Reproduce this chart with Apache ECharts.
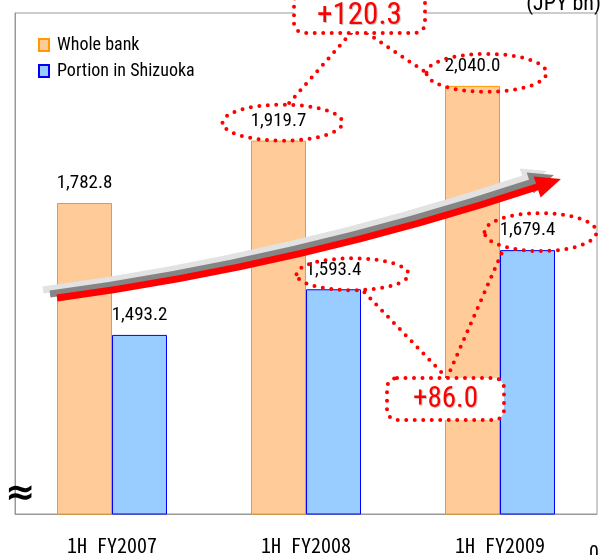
<!DOCTYPE html>
<html>
<head>
<meta charset="utf-8">
<script src="https://cdn.jsdelivr.net/npm/echarts@6/dist/echarts.min.js"></script>
<style>
  html, body { margin: 0; padding: 0; background: #fff; }
  #chart { width: 604px; height: 555px; }
</style>
</head>
<body>
<div id="chart"></div>
<script>
// Loans outstanding, JPY bn
const categories = ['1H FY2007', '1H FY2008', '1H FY2009'];
const wholeBank = [1782.8, 1919.7, 2040.0];
const shizuoka = [1493.2, 1593.4, 1679.4];
const seriesNames = ['Whole bank', 'Portion in Shizuoka'];
const unitLabel = '(JPY bn)';

const NARROW = "'Liberation Sans Narrow', 'Arial Narrow', 'Roboto Condensed', sans-serif";
const GOTHIC = "'Noto Sans Mono CJK JP', 'Liberation Mono', monospace";
const BAR_W = 55;
const RED = '#FF0000';

const fmt = v => v.toLocaleString('en-US', { minimumFractionDigits: 1, maximumFractionDigits: 1 });
const diff = (arr) => '+' + fmt(arr[2] - arr[1]);

const chart = echarts.init(document.getElementById('chart'), null, { renderer: 'canvas' });

const labelStyle = {
  show: true, position: 'top', distance: 10,
  formatter: p => fmt(p.value),
  fontFamily: NARROW, fontSize: 19, color: '#000'
};

chart.setOption({
  animation: false,
  grid: { left: 15, top: 13, right: 7, bottom: 39, show: true, borderColor: '#999', borderWidth: 1 },
  legend: {
    orient: 'vertical', left: 33, top: 31,
    itemWidth: 10, itemHeight: 12, itemGap: 8, icon: 'rect',
    selectedMode: false,
    textStyle: { fontFamily: NARROW, fontSize: 18, color: '#000', padding: [0, 0, 0, 3] },
    data: seriesNames
  },
  xAxis: {
    type: 'category', data: categories,
    axisLine: { lineStyle: { color: '#999' } },
    axisTick: { inside: true, length: 6, lineStyle: { color: '#999' } },
    axisLabel: { fontFamily: GOTHIC, fontSize: 20, color: '#000', margin: 21 }
  },
  yAxis: {
    type: 'value', min: 1100, max: 2200,
    axisLine: { show: true, lineStyle: { color: '#999' } },
    axisTick: { show: false }, axisLabel: { show: false }, splitLine: { show: false }
  },
  series: [
    {
      name: seriesNames[0], type: 'bar', data: wholeBank, barWidth: BAR_W, barGap: '0%',
      itemStyle: { color: '#FFCC99', borderColor: '#FF9900', borderWidth: 1 },
      label: labelStyle
    },
    {
      name: seriesNames[1], type: 'bar', data: shizuoka, barWidth: BAR_W, barGap: '0%',
      itemStyle: { color: '#99CCFF', borderColor: '#0000FF', borderWidth: 1 },
      label: labelStyle
    }
  ]
});

// ---- annotations -------------------------------------------------------
function barTop(s, i) {
  const vals = s === 0 ? wholeBank : shizuoka;
  const p = chart.convertToPixel({ gridIndex: 0 }, [i, vals[i]]);
  return [p[0] + (s === 0 ? -BAR_W / 2 : BAR_W / 2), p[1]];
}
const dotted = { stroke: RED, lineWidth: 4, lineDash: [0, 8.5], lineCap: 'round', fill: null };

function ring(s, i, dx, dy, rx, ry) {
  const t = barTop(s, i);
  return { cx: t[0] + dx, cy: t[1] + dy, rx, ry };
}
function onRing(e, deg) {
  const a = deg * Math.PI / 180;
  return [e.cx + e.rx * Math.cos(a), e.cy + e.ry * Math.sin(a)];
}

const e1 = ring(0, 1, 4, -18, 60, 18);
const e2 = ring(0, 2, 14, -13, 60, 19);
const e3 = ring(1, 1, 19, -15, 56, 16);
const e4 = ring(1, 2, 13, -18, 56, 19);

const boxA = { x: 294, y: -8, width: 131, height: 41, r: 10 };
const boxB = { x: 387, y: 378, width: 117, height: 42, r: 10 };

const graphics = [];

// trend arrow (two grey shadow layers under a red one)
const P0 = [57, 298], P1 = [300, 265.5], P2 = [540, 186];
const ux = P2[0] - P1[0], uy = P2[1] - P1[1], ul = Math.hypot(ux, uy);
const u = [ux / ul, uy / ul], n = [-u[1], u[0]];
const head = (ox, oy) => [
  [P2[0] + 22 * u[0] + ox, P2[1] + 22 * u[1] + oy],
  [P2[0] + 11 * n[0] - 3 * u[0] + ox, P2[1] + 11 * n[1] - 3 * u[1] + oy],
  [P2[0] - 11 * n[0] - 3 * u[0] + ox, P2[1] - 11 * n[1] - 3 * u[1] + oy]
];
[[-14, -8, '#E2E2E2'], [-7, -4, '#858585'], [0, 0, RED]].forEach(([ox, oy, c], k) => {
  graphics.push({
    type: 'bezierCurve', z: 100 + k,
    shape: { x1: P0[0] + ox, y1: P0[1] + oy, cpx1: P1[0] + ox, cpy1: P1[1] + oy, x2: P2[0] + ox, y2: P2[1] + oy },
    style: { stroke: c, lineWidth: 7, fill: null }
  });
  graphics.push({ type: 'polygon', z: 100 + k, shape: { points: head(ox, oy) }, style: { fill: c } });
});

// dotted rings around labels
[e1, e2, e3, e4].forEach(e => graphics.push({ type: 'ellipse', z: 110, shape: e, style: dotted }));

// connectors
const connectors = [
  [[351, boxA.y + boxA.height], onRing(e1, -85)],
  [[367, boxA.y + boxA.height], onRing(e2, 180)],
  [[447, boxB.y], onRing(e3, 80)],
  [[447, boxB.y], onRing(e4, 130)]
];
connectors.forEach(([a, b]) => graphics.push({
  type: 'line', z: 110, shape: { x1: a[0], y1: a[1], x2: b[0], y2: b[1] }, style: dotted
}));

// difference boxes
[[boxA, diff(wholeBank), 31, 4], [boxB, diff(shizuoka), 29, 1]].forEach(([b, txt, fs, dy]) => {
  graphics.push({ type: 'rect', z: 120, shape: b, style: Object.assign({}, dotted, { fill: '#fff' }) });
  graphics.push({
    type: 'text', z: 121, x: b.x + b.width / 2, y: b.y + b.height / 2 + dy,
    style: {
      text: txt, fill: RED, font: fs + 'px ' + NARROW, textAlign: 'center', textVerticalAlign: 'middle',
      textShadowColor: 'rgba(0,0,0,0.25)', textShadowOffsetX: 1, textShadowOffsetY: 1, textShadowBlur: 1
    }
  });
});

// unit, axis break mark
graphics.push({
  type: 'text', z: 90, x: 601, y: 15,
  style: { text: unitLabel, fill: '#000', font: '22px ' + NARROW, textAlign: 'right', textVerticalAlign: 'bottom' }
});
graphics.push({
  type: 'text', z: 90, x: 20, y: 495,
  style: { text: '≈', fill: '#000', font: 'bold 36px DejaVu Sans', textAlign: 'center', textVerticalAlign: 'middle' }
});
graphics.push({
  type: 'text', z: 90, x: 589, y: 545,
  style: { text: '0', fill: '#000', font: '20px ' + NARROW, textAlign: 'left', textVerticalAlign: 'top' }
});

chart.setOption({ graphic: graphics });
</script>
</body>
</html>
